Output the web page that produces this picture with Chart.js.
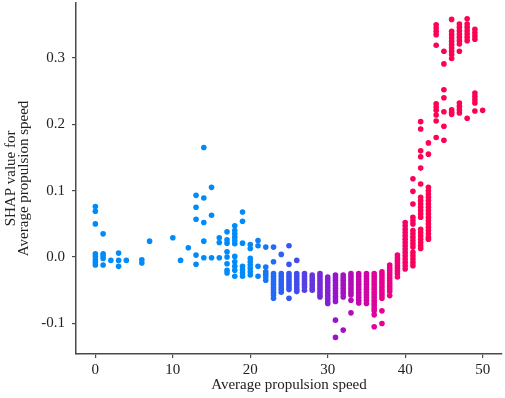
<!DOCTYPE html>
<html>
<head>
<meta charset="utf-8">
<script src="https://cdn.jsdelivr.net/npm/chart.js@4"></script>
<style>
  html, body { margin: 0; padding: 0; background: #fff; }
  #wrap { width: 505px; height: 398px; }
</style>
</head>
<body>
<div id="wrap"><canvas id="shapChart" width="505" height="398"></canvas></div>
<script>
// feature values (x) and the SHAP values read at each of them
const speedLevels = [0, 1, 2, 3, 4, 6, 7, 10, 11, 12, 13, 14, 15, 16, 17, 18, 19, 20, 21, 22, 23, 24, 25,
  26, 27, 28, 29, 30, 31, 32, 33, 34, 35, 36, 37, 38, 39, 40, 41, 42, 43, 44, 45, 46, 47, 48, 49, 50];

const shapValues = [
  [0.076, 0.069, 0.050, 0.005, 0.001, -0.004, -0.008, -0.012],
  [0.035, 0.005, 0.002, -0.002, -0.012],
  [-0.005],
  [0.006, -0.005, -0.014],
  [-0.005],
  [-0.004, -0.009],
  [0.024],
  [0.029],
  [-0.005],
  [0.014],
  [0.093, 0.075, 0.057, 0.003, -0.011],
  [0.165, 0.089, 0.052, 0.024, -0.001],
  [0.105, 0.063, -0.001],
  [0.029, 0.022, -0.001],
  [0.038, 0.026, 0.021, 0.008, 0.000, -0.010, -0.020, -0.024],
  [0.047, 0.040, 0.035, 0.030, 0.025, 0.020, 0.001, -0.007, -0.014, -0.020, -0.029],
  [0.068, 0.054, 0.021, -0.014, -0.019, -0.024, -0.029],
  [0.019, 0.013, -0.002, -0.007, -0.012, -0.017, -0.022, -0.027],
  [0.025, 0.017, -0.014, -0.029],
  [0.015, -0.015, -0.022, -0.026, -0.030, -0.035],
  [0.015, -0.007, -0.025, -0.029, -0.033, -0.037, -0.041, -0.045, -0.049, -0.053, -0.057, -0.062],
  [0.004, -0.025, -0.029, -0.033, -0.037, -0.041, -0.045, -0.049, -0.053],
  [0.017, -0.011, -0.025, -0.029, -0.033, -0.037, -0.041, -0.045, -0.049, -0.062],
  [-0.005, -0.025, -0.029, -0.033, -0.037, -0.041, -0.045, -0.049, -0.052],
  [-0.025, -0.029, -0.033, -0.037, -0.041, -0.045, -0.050],
  [-0.027, -0.031, -0.035, -0.039, -0.043, -0.047, -0.050],
  [-0.025, -0.029, -0.033, -0.037, -0.041, -0.045, -0.049, -0.053, -0.057, -0.060],
  [-0.030, -0.034, -0.038, -0.042, -0.046, -0.050, -0.054, -0.058, -0.062, -0.066, -0.070],
  [-0.027, -0.031, -0.035, -0.039, -0.043, -0.047, -0.051, -0.055, -0.059, -0.063, -0.067, -0.095, -0.121],
  [-0.027, -0.031, -0.035, -0.039, -0.043, -0.047, -0.051, -0.055, -0.060, -0.110],
  [-0.025, -0.029, -0.033, -0.037, -0.041, -0.045, -0.049, -0.053, -0.057, -0.065, -0.084],
  [-0.025, -0.029, -0.033, -0.037, -0.041, -0.045, -0.049, -0.053, -0.057, -0.061, -0.065, -0.069],
  [-0.025, -0.029, -0.033, -0.037, -0.041, -0.045, -0.049, -0.053, -0.057, -0.061, -0.065, -0.070],
  [-0.025, -0.029, -0.033, -0.037, -0.041, -0.045, -0.049, -0.053, -0.057, -0.061, -0.065, -0.069, -0.073, -0.077, -0.081, -0.087, -0.105],
  [-0.022, -0.026, -0.030, -0.034, -0.038, -0.042, -0.046, -0.050, -0.054, -0.058, -0.062, -0.081, -0.100],
  [-0.012, -0.016, -0.020, -0.024, -0.028, -0.032, -0.036, -0.040, -0.044, -0.048, -0.052, -0.058],
  [0.003, -0.001, -0.005, -0.009, -0.013, -0.017, -0.021, -0.025, -0.030],
  [0.052, 0.047, 0.042, 0.037, 0.032, 0.027, 0.022, 0.017, 0.012, 0.007, 0.002, -0.003, -0.008, -0.013, -0.018],
  [0.118, 0.099, 0.080, 0.060, 0.055, 0.050, 0.040, 0.035, 0.030, 0.025, 0.020, 0.015, 0.007, 0.002, -0.003, -0.008, -0.013],
  [0.204, 0.193, 0.160, 0.151, 0.134, 0.110, 0.090, 0.085, 0.080, 0.075, 0.070, 0.065, 0.060, 0.042, 0.037, 0.032, 0.027, 0.022, 0.017, 0.013],
  [0.172, 0.155, 0.105, 0.100, 0.095, 0.090, 0.085, 0.080, 0.075, 0.070, 0.065, 0.060, 0.055, 0.050, 0.045, 0.040, 0.035, 0.030, 0.027],
  [0.350, 0.345, 0.340, 0.335, 0.319, 0.231, 0.226, 0.221, 0.214, 0.205, 0.180],
  [0.310, 0.291, 0.252, 0.240, 0.219, 0.197, 0.176],
  [0.358, 0.340, 0.335, 0.330, 0.325, 0.320, 0.315, 0.310, 0.305, 0.299, 0.222, 0.218, 0.215],
  [0.351, 0.346, 0.341, 0.336, 0.331, 0.326, 0.321, 0.310, 0.232, 0.227, 0.222, 0.217],
  [0.359, 0.351, 0.346, 0.341, 0.336, 0.331, 0.326, 0.209],
  [0.343, 0.338, 0.333, 0.328, 0.247, 0.242, 0.237, 0.232, 0.220],
  [0.221]
];

const xTicks = [0, 10, 20, 30, 40, 50];
const yTicks = [-0.1, 0.0, 0.1, 0.2, 0.3];

// blue -> purple -> red, like the SHAP colour bar
const colorStops = [
  [0.00, [0, 139, 251]],
  [0.25, [60, 80, 240]],
  [0.50, [150, 20, 205]],
  [0.75, [230, 0, 150]],
  [1.00, [255, 0, 82]]
];

function speedColor(v) {
  let t = (v - 20) / (42 - 20);
  t = Math.max(0, Math.min(1, t));
  for (let i = 1; i < colorStops.length; i++) {
    const [t1, c1] = colorStops[i];
    const [t0, c0] = colorStops[i - 1];
    if (t <= t1) {
      const f = (t - t0) / (t1 - t0);
      const c = c0.map((a, k) => Math.round(a + (c1[k] - a) * f));
      return `rgb(${c[0]}, ${c[1]}, ${c[2]})`;
    }
  }
  return "rgb(255, 0, 82)";
}

document.addEventListener("DOMContentLoaded", function () {
  const ctx = document.getElementById("shapChart").getContext("2d");

  const points = [];
  speedLevels.forEach((s, i) => {
    shapValues[i].forEach((v) => points.push({ x: s, y: v }));
  });

  const axisColor = "#4a4a4a";
  const serif = "'Liberation Serif', 'Times New Roman', serif";

  new Chart(ctx, {
    type: "scatter",
    data: {
      datasets: [
        {
          label: "SHAP",
          data: points,
          pointRadius: 2.8,
          pointHoverRadius: 2.8,
          borderWidth: 0,
          backgroundColor: (c) => speedColor(c.raw ? c.raw.x : 0),
        },
      ],
    },
    options: {
      responsive: false,
      animation: false,
      layout: { padding: { left: 0, top: 0, bottom: 0, right: 3 } },
      plugins: {
        legend: { display: false },
        tooltip: { enabled: false },
      },
      scales: {
        x: {
          type: "linear",
          min: -2.5,
          max: 52.5,
          afterBuildTicks: (scale) => {
            scale.ticks = xTicks.map((v) => ({ value: v }));
          },
          afterFit: (scale) => {
            scale.height = 44;
            scale.paddingLeft = 0;
            scale.paddingRight = 0;
          },
          grid: { drawOnChartArea: false, drawTicks: true, tickLength: 4, color: axisColor, lineWidth: 1.2 },
          border: { display: true, color: axisColor, width: 1.5 },
          ticks: {
            color: "#222",
            padding: 3,
            maxRotation: 0,
            font: { family: serif, size: 15 },
            callback: (v) => String(v),
          },
          title: {
            display: true,
            text: "Average propulsion speed",
            color: "#222",
            font: { family: serif, size: 15 },
            padding: { top: 0, bottom: 4 },
          },
        },
        y: {
          type: "linear",
          min: -0.146,
          max: 0.383,
          afterBuildTicks: (scale) => {
            scale.ticks = yTicks.map((v) => ({ value: v }));
          },
          afterFit: (scale) => {
            scale.width = 76;
            scale.paddingTop = 0;
            scale.paddingBottom = 0;
          },
          grid: { drawOnChartArea: false, drawTicks: true, tickLength: 4, color: axisColor, lineWidth: 1.2 },
          border: { display: true, color: axisColor, width: 1.5 },
          ticks: {
            color: "#222",
            padding: 7,
            font: { family: serif, size: 15 },
            callback: (v) => v.toFixed(1),
          },
          title: {
            display: true,
            text: ["SHAP value for", "Average propulsion speed"],
            color: "#222",
            font: { family: serif, size: 15, lineHeight: 0.9 },
            padding: { top: 4, bottom: 0 },
          },
        },
      },
    },
  });
});
</script>
</body>
</html>
